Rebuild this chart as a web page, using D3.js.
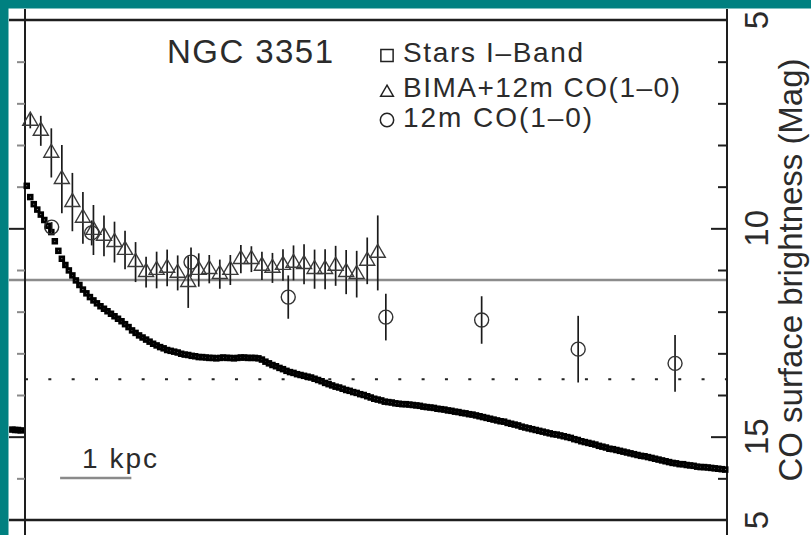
<!DOCTYPE html>
<html>
<head>
<meta charset="utf-8">
<script src="https://cdn.jsdelivr.net/npm/d3@7"></script>
<style>
  html, body { margin: 0; padding: 0; background: #ffffff; }
  svg { display: block; }
  text { font-family: "Liberation Sans", Arial, sans-serif; fill: #2b2b2b; }
</style>
</head>
<body>
<svg id="chart" width="811" height="535"></svg>
<script>
// NGC 3351: stellar I-band and CO surface brightness profiles against radius (arcsec)

// I-band stellar profile, sampled every arcsec from 0.5"
const starStartR = 0.5;
const starStepR = 1;
const starMag = [
  8.98, 9.25, 9.42, 9.55, 9.67, 9.80, 9.94, 10.09, 10.31, 10.54,
  10.73, 10.88, 11.01, 11.13, 11.25, 11.36, 11.47, 11.56, 11.65, 11.73,
  11.80, 11.87, 11.93, 11.99, 12.05, 12.11, 12.17, 12.23, 12.30, 12.37,
  12.45, 12.51, 12.57, 12.62, 12.67, 12.72, 12.77, 12.81, 12.85, 12.88,
  12.92, 12.94, 12.96, 12.98, 13.01, 13.03, 13.04, 13.06, 13.07, 13.09,
  13.09, 13.10, 13.11, 13.11, 13.12, 13.11, 13.10, 13.11, 13.11, 13.12,
  13.11, 13.10, 13.10, 13.11, 13.11, 13.11, 13.12, 13.15, 13.20, 13.24,
  13.28, 13.31, 13.35, 13.38, 13.42, 13.45, 13.47, 13.50, 13.52, 13.54,
  13.56, 13.58, 13.61, 13.64, 13.67, 13.71, 13.74, 13.77, 13.80, 13.82,
  13.85, 13.88, 13.90, 13.93, 13.95, 13.98, 14.00, 14.03, 14.06, 14.09,
  14.11, 14.13, 14.16, 14.17, 14.18, 14.20, 14.21, 14.22, 14.22, 14.23,
  14.24, 14.25, 14.26, 14.28, 14.29, 14.30, 14.31, 14.33, 14.34, 14.35,
  14.37, 14.38, 14.40, 14.41, 14.43, 14.44, 14.46, 14.47, 14.49, 14.51,
  14.53, 14.55, 14.57, 14.59, 14.61, 14.63, 14.64, 14.67, 14.69, 14.71,
  14.73, 14.76, 14.78, 14.80, 14.82, 14.84, 14.86, 14.88, 14.90, 14.92,
  14.94, 14.95, 14.97, 14.99, 15.01, 15.03, 15.06, 15.08, 15.11, 15.13,
  15.15, 15.17, 15.19, 15.22, 15.24, 15.26, 15.29, 15.30, 15.32, 15.34,
  15.36, 15.38, 15.40, 15.42, 15.44, 15.46, 15.47, 15.49, 15.51, 15.53,
  15.55, 15.57, 15.59, 15.61, 15.63, 15.64, 15.66, 15.66, 15.68, 15.69,
  15.70, 15.72, 15.73, 15.73, 15.74, 15.75, 15.76, 15.77, 15.78, 15.79
];

// a few profile points spilling in from the neighbouring panel
const edgeStarR = [-3.6, -2.8, -2.0, -1.2];
const edgeStarMag = [14.83, 14.84, 14.84, 14.85];

// BIMA + 12m combined CO(1-0)
const bimaR = [1.5, 4.5, 7.5, 10.5, 13.5, 16.5, 19.5, 22.5, 25.5, 28.5,
  31.5, 34.5, 37.5, 40.5, 43.5, 46.5, 49.5, 52.5, 55.5, 58.5,
  61.5, 64.5, 67.5, 70.5, 73.5, 76.5, 79.5, 82.5, 85.5, 88.5,
  91.5, 94.5, 97.5, 100.5];
const bimaMag = [7.42, 7.66, 8.19, 8.82, 9.37, 9.75, 10.04, 10.18, 10.33, 10.52,
  10.81, 11.05, 11.00, 10.95, 11.07, 11.29, 11.00, 10.98, 11.10, 11.00,
  10.74, 10.74, 10.90, 10.95, 10.88, 10.83, 10.86, 10.98, 10.98, 10.90,
  11.05, 11.10, 10.78, 10.59];
const bimaErr = [0.18, 0.36, 0.59, 0.82, 0.70, 0.62, 0.60, 0.49, 0.49, 0.46,
  0.48, 0.37, 0.44, 0.44, 0.42, 0.62, 0.40, 0.34, 0.35, 0.36,
  0.34, 0.31, 0.34, 0.36, 0.38, 0.42, 0.48, 0.47, 0.48, 0.48,
  0.53, 0.56, 0.56, 0.90];

// 12m-only CO(1-0)
const singleR = [7.6, 19.0, 47.3, 75.0, 102.8, 130.1, 157.6, 185.2];
const singleMag = [9.97, 10.11, 10.81, 11.65, 12.13, 12.20, 12.90, 13.24];
const singleErr = [0.12, 0.30, 0.35, 0.52, 0.56, 0.57, 0.80, 0.68];

// axis ticks and labels (magnitudes)
const magTicksMinor = [6, 7, 8, 9, 11, 12, 13, 14, 16];
const magTicksMajor = [10, 15];
const magLabelValues = [5, 10, 15, 17];
const magLabelTexts = ["5", "10", "15", "5"];

// reference levels
const refLevelSolid = 11.24;
const refLevelDotted = 13.62;

// 1 kpc scale bar (arcsec)
const kpcArcsec = 20.3;
const kpcBarStart = 10;

const titleText = "NGC 3351";
const legendLabels = ["Stars I–Band", "BIMA+12m CO(1–0)", "12m CO(1–0)"];
const yTitle = "CO surface brightness (Mag)";

// ---------------------------------------------------------------
const W = 811, H = 535;
const svg = d3.select("#chart");
svg.append("rect").attr("width", W).attr("height", H).attr("fill", "#ffffff");

const x = d3.scaleLinear().domain([0, 200]).range([25, 727]);
const y = d3.scaleLinear().domain([5, 17]).range([20, 520]);

const frameLeft = 9, frameTop = 9;
const ink = "#1e1e1e";

// reference levels
svg.append("line")
  .attr("x1", frameLeft).attr("x2", x(200))
  .attr("y1", y(refLevelSolid)).attr("y2", y(refLevelSolid))
  .attr("stroke", "#8c8c8c").attr("stroke-width", 2.4);
svg.append("line")
  .attr("x1", x(0)).attr("x2", x(200))
  .attr("y1", y(refLevelDotted)).attr("y2", y(refLevelDotted))
  .attr("stroke", "#222").attr("stroke-width", 2)
  .attr("stroke-dasharray", "3,20.33");

// frame lines (top and bottom run out to the panel edge)
[5, 17].forEach(m => {
  svg.append("line")
    .attr("x1", frameLeft).attr("x2", x(200))
    .attr("y1", y(m)).attr("y2", y(m))
    .attr("stroke", ink).attr("stroke-width", 2.6);
});
[x(0), x(200)].forEach(px => {
  svg.append("line")
    .attr("x1", px).attr("x2", px)
    .attr("y1", frameTop).attr("y2", H)
    .attr("stroke", ink).attr("stroke-width", 2);
});

// left axis ticks
const leftMinor = svg.append("g").attr("transform", `translate(${x(0)},0)`)
  .call(d3.axisLeft(y).tickValues(magTicksMinor).tickSize(8).tickFormat(""));
leftMinor.select(".domain").remove();
leftMinor.selectAll(".tick line").attr("stroke", "#8a8a8a").attr("stroke-width", 2);

const leftMajor = svg.append("g").attr("transform", `translate(${x(0)},0)`)
  .call(d3.axisLeft(y).tickValues(magTicksMajor).tickSize(x(0) - frameLeft).tickFormat(""));
leftMajor.select(".domain").remove();
leftMajor.selectAll(".tick line").attr("stroke", ink).attr("stroke-width", 2);

// right axis ticks (pointing inward)
const rightMinor = svg.append("g").attr("transform", `translate(${x(200)},0)`)
  .call(d3.axisLeft(y).tickValues(magTicksMinor).tickSize(9).tickFormat(""));
rightMinor.select(".domain").remove();
rightMinor.selectAll(".tick line").attr("stroke", ink).attr("stroke-width", 2);

const rightMajor = svg.append("g").attr("transform", `translate(${x(200)},0)`)
  .call(d3.axisLeft(y).tickValues(magTicksMajor).tickSize(16).tickFormat(""));
rightMajor.select(".domain").remove();
rightMajor.selectAll(".tick line").attr("stroke", ink).attr("stroke-width", 2);

// right-hand tick labels, rotated
magLabelValues.forEach((v, i) => {
  svg.append("text")
    .attr("transform", `translate(768,${y(v)}) rotate(-90)`)
    .attr("text-anchor", "middle")
    .attr("font-size", 33)
    .text(magLabelTexts[i]);
});

// axis title
svg.append("text")
  .attr("transform", `translate(802,${(y(5) + y(17)) / 2}) rotate(-90)`)
  .attr("text-anchor", "middle")
  .attr("font-size", 33)
  .attr("textLength", 423).attr("lengthAdjust", "spacing")
  .text(yTitle);

// stellar profile: open squares, packed into a solid band
const starData = starMag.map((m, i) => ({ r: starStartR + i * starStepR, m }))
  .concat(edgeStarR.map((r, i) => ({ r, m: edgeStarMag[i] })));
const sq = 3.6;
svg.append("g").selectAll("rect").data(starData).join("rect")
  .attr("x", d => x(d.r) - sq / 2)
  .attr("y", d => y(d.m) - sq / 2)
  .attr("width", sq).attr("height", sq)
  .attr("fill", "none").attr("stroke", "#000").attr("stroke-width", 2.9);

// error bars
function errorBars(rs, ms, es) {
  svg.append("g").selectAll("line").data(rs).join("line")
    .attr("x1", d => x(d)).attr("x2", d => x(d))
    .attr("y1", (d, i) => y(ms[i] - es[i]))
    .attr("y2", (d, i) => y(ms[i] + es[i]))
    .attr("stroke", "#1a1a1a").attr("stroke-width", 1.7);
}
errorBars(bimaR, bimaMag, bimaErr);
errorBars(singleR, singleMag, singleErr);

// BIMA+12m triangles
const triPath = d3.symbol().type(d3.symbolTriangle).size(98)();
svg.append("g").selectAll("path").data(bimaR).join("path")
  .attr("d", triPath)
  .attr("transform", (d, i) => `translate(${x(d)},${y(bimaMag[i])})`)
  .attr("fill", "none").attr("stroke", "#3a3a3a").attr("stroke-width", 1.4);

// 12m circles
svg.append("g").selectAll("circle").data(singleR).join("circle")
  .attr("cx", d => x(d)).attr("cy", (d, i) => y(singleMag[i]))
  .attr("r", 7)
  .attr("fill", "none").attr("stroke", "#333").attr("stroke-width", 1.4);

// title
svg.append("text")
  .attr("x", 167).attr("y", 63)
  .attr("font-size", 33)
  .attr("textLength", 166).attr("lengthAdjust", "spacing")
  .text(titleText);

// legend
const legendX = 387, legendTextX = 403;
const legendBase = [62, 97, 127];
const legendLens = [180, 277, 189];
const legendSymbols = [
  d3.symbol().type(d3.symbolSquare).size(150)(),
  d3.symbol().type(d3.symbolTriangle).size(70)(),
  d3.symbol().type(d3.symbolCircle).size(140)()
];
const legendMarkY = [55.5, 92.5, 120];
legendLabels.forEach((lab, i) => {
  svg.append("path")
    .attr("d", legendSymbols[i])
    .attr("transform", `translate(${legendX},${legendMarkY[i]})`)
    .attr("fill", "none").attr("stroke", "#222").attr("stroke-width", 1.5);
  svg.append("text")
    .attr("x", legendTextX).attr("y", legendBase[i])
    .attr("font-size", 28)
    .attr("textLength", legendLens[i]).attr("lengthAdjust", "spacing")
    .text(lab);
});

// 1 kpc scale bar
svg.append("line")
  .attr("x1", x(kpcBarStart)).attr("x2", x(kpcBarStart + kpcArcsec))
  .attr("y1", 478).attr("y2", 478)
  .attr("stroke", "#8a8a8a").attr("stroke-width", 2.6);
svg.append("text")
  .attr("x", 82).attr("y", 468)
  .attr("font-size", 28)
  .attr("textLength", 75).attr("lengthAdjust", "spacing")
  .text("1 kpc");

// teal page border
svg.append("rect").attr("x", 0).attr("y", 0).attr("width", W).attr("height", frameTop - 0.5).attr("fill", "#008080");
svg.append("rect").attr("x", 0).attr("y", 0).attr("width", frameLeft - 0.5).attr("height", H).attr("fill", "#008080");
</script>
</body>
</html>
